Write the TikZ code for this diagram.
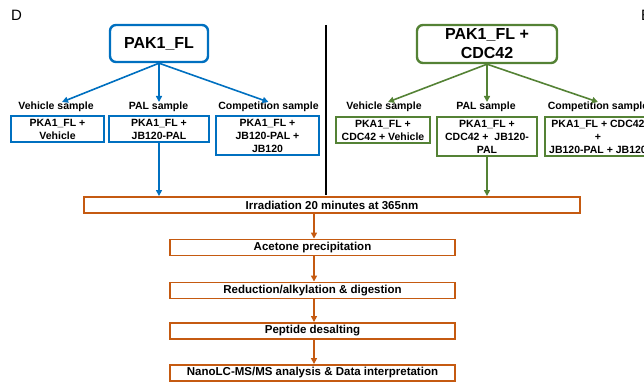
\documentclass[tikz,border=0pt]{standalone}
\usepackage{fontspec}
\setmainfont{Liberation Sans}
\usetikzlibrary{arrows.meta}
\definecolor{cblue}{HTML}{0070C0}
\definecolor{cgreen}{HTML}{548235}
\definecolor{corange}{HTML}{C55A11}
\begin{document}
\begin{tikzpicture}[x=1pt,y=-1pt,
  txt/.style={font=\bfseries\fontsize{10.5}{13}\selectfont,align=center,inner sep=0pt},
  title/.style={font=\bfseries\fontsize{16}{19}\selectfont,align=center,draw,line width=2.4pt,rounded corners=6pt,inner sep=0pt},
  lbl/.style={font=\bfseries\fontsize{10.5}{12}\selectfont,inner sep=0pt,text height=7.6pt,text depth=2pt},
  sbox/.style={txt,draw,line width=2.2pt},
  obox/.style={font=\bfseries\fontsize{11.5}{13}\selectfont,inner sep=0pt,draw=corange,line width=1.9pt,minimum height=16pt},
  arr/.style={line width=1.6pt,-{Triangle[length=6pt,width=6pt]}},
]
\useasboundingbox (0,0) rectangle (644,382);
\node[font=\fontsize{15}{18}\selectfont,anchor=west,inner sep=0pt] (D) at (11,15) {D};
\node[font=\fontsize{15}{18}\selectfont,anchor=west,inner sep=0pt] (E) at (641,15) {E};
% divider
\coordinate (dt) at (326,25);
\coordinate (db) at (326,195);
\draw[line width=2.5pt] (dt) -- (db);
% left
\node[title,draw=cblue,minimum width=98pt,minimum height=37pt] (tl) at (159,43.5) {PAK1\_FL};
\node[lbl] (lvl) at (56,107) {Vehicle sample};
\node[lbl] (lpl) at (158.5,107) {PAL sample};
\node[lbl] (lcl) at (268.5,107) {Competition sample};
\node[sbox,draw=cblue,minimum width=93pt,minimum height=26pt] (lv) at (57.5,129) {PKA1\_FL +\\Vehicle};
\node[sbox,draw=cblue,minimum width=100pt,minimum height=26pt] (lp) at (159,129) {PKA1\_FL +\\JB120-PAL};
\node[sbox,draw=cblue,minimum width=103pt,minimum height=39pt] (lc) at (267.5,135.5) {PKA1\_FL +\\JB120-PAL +\\JB120};
\draw[arr,cblue] (tl.south) -- ([xshift=6pt]lvl.north);
\draw[arr,cblue] (tl.south) -- (tl.south |- lpl.north);
\draw[arr,cblue] (tl.south) -- (lcl.north);
% right
\node[title,draw=cgreen,minimum width=140pt,minimum height=38pt] (tr) at (487,44) {PAK1\_FL +\\CDC42};
\node[lbl] (rvl) at (384,107) {Vehicle sample};
\node[lbl] (rpl) at (486,107) {PAL sample};
\node[lbl] (rcl) at (598,107) {Competition sample};
\node[sbox,draw=cgreen,minimum width=94pt,minimum height=26pt] (rv) at (383,130) {PKA1\_FL +\\CDC42 + Vehicle};
\node[sbox,draw=cgreen,minimum width=100pt,minimum height=39pt] (rp) at (487,136.5) {PKA1\_FL +\\CDC42 + \ JB120-\\PAL};
\node[sbox,draw=cgreen,minimum width=106pt,minimum height=39pt] (rc) at (598,136.5) {PKA1\_FL + CDC42\\+\\JB120-PAL + JB120};
\draw[arr,cgreen] (tr.south) -- ([xshift=4pt]rvl.north);
\draw[arr,cgreen] (tr.south) -- (tr.south |- rpl.north);
\draw[arr,cgreen] (tr.south) -- (rcl.north);
% bottom
\node[obox,minimum width=496pt] (irr) at (332,205) {Irradiation 20 minutes at 365nm};
\node[obox,minimum width=285pt] (ace) at (312.5,247.5) {Acetone precipitation};
\node[obox,minimum width=285pt] (red) at (312.5,290.5) {Reduction/alkylation \& digestion};
\node[obox,minimum width=285pt] (pep) at (312.5,331) {Peptide desalting};
\node[obox,minimum width=285pt] (nano) at (312.5,373) {NanoLC-MS/MS analysis \& Data interpretation};
\draw[arr,cblue] (lp.south) -- (lp.south |- irr.north);
\draw[arr,cgreen] (rp.south) -- (rp.south |- irr.north);
\draw[arr,corange] ([xshift=1.5pt]irr.south -| ace.north) -- ([xshift=1.5pt]ace.north);
\draw[arr,corange] ([xshift=1.5pt]ace.south) -- ([xshift=1.5pt]red.north);
\draw[arr,corange] ([xshift=1.5pt]red.south) -- ([xshift=1.5pt]pep.north);
\draw[arr,corange] ([xshift=1.5pt]pep.south) -- ([xshift=1.5pt]nano.north);
\end{tikzpicture}
\end{document}
